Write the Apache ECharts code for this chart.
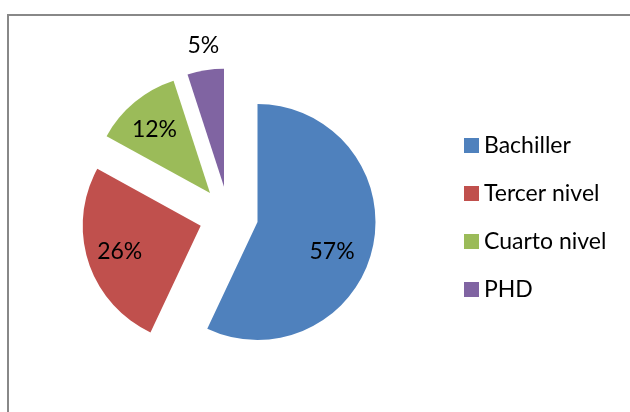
<!DOCTYPE html>
<html>
<head>
<meta charset="utf-8">
<script src="https://cdn.jsdelivr.net/npm/echarts@6/dist/echarts.min.js"></script>
<style>
  html, body { margin: 0; padding: 0; background: #fff; }
  #chart { width: 630px; height: 412px; }
</style>
</head>
<body>
<div id="chart"></div>
<script>
const categories = ['Bachiller', 'Tercer nivel', 'Cuarto nivel', 'PHD'];
const values = [57, 26, 12, 5];
const colors = ['#4F81BD', '#C0504D', '#9BBB59', '#8064A2'];

// each slice is drawn from its own series so it can be pulled out on its own
const sliceCenters = [[257.5, 222], [200.7, 225.7], [210, 193], [224, 186.7]];
const labelShift = [[14, 16], [-22, 7], [-16, -16], [-11, -80]];
const radius = 118;
const font = 'Lato, "Noto Sans", sans-serif';

const chart = echarts.init(document.getElementById('chart'));

const series = categories.map((owner, k) => ({
  type: 'pie',
  silent: true,
  center: sliceCenters[k],
  radius: [0, radius],
  startAngle: 90,
  clockwise: true,
  avoidLabelOverlap: false,
  label: {
    position: 'inside',
    formatter: '{d}%',
    fontFamily: font,
    fontSize: 23,
    color: '#000'
  },
  labelLine: { show: false },
  labelLayout: { dx: labelShift[k][0], dy: labelShift[k][1] },
  emphasis: { disabled: true },
  data: categories.map((name, i) => ({
    name: name,
    value: values[i],
    itemStyle: {
      color: i === k ? colors[i] : 'rgba(0,0,0,0)',
      borderWidth: 0
    },
    label: { show: i === k }
  }))
}));

chart.setOption({
  animation: false,
  backgroundColor: '#fff',
  graphic: [{
    type: 'rect',
    z: -1,
    shape: { x: 8, y: 15, width: 700, height: 500 },
    style: { fill: 'none', stroke: '#888', lineWidth: 2 }
  }],
  legend: {
    orient: 'vertical',
    left: 459,
    top: 129,
    icon: 'rect',
    itemWidth: 15,
    itemHeight: 15,
    itemGap: 25,
    selectedMode: false,
    textStyle: {
      fontFamily: font,
      fontSize: 23,
      lineHeight: 23,
      color: '#000'
    },
    data: categories.map((name, i) => ({ name: name, itemStyle: { color: colors[i] } }))
  },
  series: series
});
</script>
</body>
</html>
